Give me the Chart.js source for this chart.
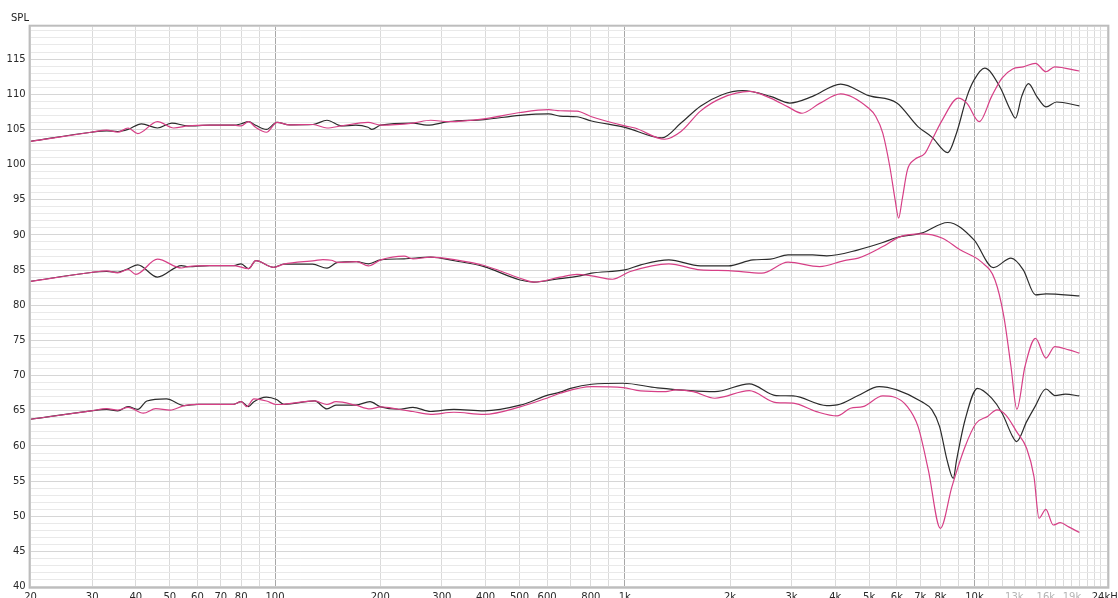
<!DOCTYPE html>
<html>
<head>
<meta charset="utf-8">
<script src="https://cdn.jsdelivr.net/npm/chart.js@4.4.1/dist/chart.umd.min.js"></script>
<style>
  html, body { margin: 0; padding: 0; background: #fff; overflow: hidden; width: 1118px; height: 598px; }
  canvas { display: block; }
</style>
</head>
<body>
<canvas id="spl" width="1118" height="607"></canvas>
<script>
// Frequency response pairs: [Hz, dB SPL]
const topBlack = [[20,103.3],[29.8,104.6],[33,104.8],[35.5,104.7],[38,105.0],[41.5,105.8],[46.1,105.2],[50.7,105.9],[56.4,105.5],[65,105.6],[76.3,105.6],[80,105.8],[84,106.1],[88,105.6],[94.5,105.0],[101.3,106.0],[110,105.65],[128.4,105.7],[140.8,106.3],[154.9,105.5],[170,105.6],[184.5,105.3],[189.2,105.0],[200.5,105.6],[248,105.9],[272,105.6],[313.6,106.1],[396,106.4],[502,107.0],[606,107.2],[653,106.9],[730,106.8],[804,106.2],[1001,105.3],[1277,103.8],[1448,105.9],[1646,108.3],[1890,109.9],[2171,110.5],[2611,109.7],[2965,108.75],[3445,109.7],[4145,111.45],[4988,109.8],[5999,108.75],[6893,105.4],[7558,103.9],[8387,101.7],[8888,104.5],[9522,109.7],[9971,112.0],[10693,113.7],[11810,111.1],[12660,107.8],[13101,106.6],[13650,109.7],[14272,111.5],[15070,109.7],[16017,108.2],[17168,108.9],[19950,108.35]];
const topPink = [[20,103.3],[29.8,104.6],[33,104.9],[35.5,104.6],[38,105.2],[40.5,104.4],[46.1,106.1],[51.3,105.2],[56.4,105.5],[65,105.6],[76.3,105.6],[80,105.5],[84,106.1],[88,105.3],[94.5,104.6],[101.3,106.0],[110,105.65],[128.4,105.7],[140.8,105.2],[154.9,105.5],[184.5,106.0],[200.5,105.6],[248,105.9],[278.7,106.3],[313.6,106.1],[396,106.5],[502,107.4],[606,107.8],[653,107.65],[730,107.6],[804,106.8],[1001,105.5],[1070,105.2],[1300,103.6],[1448,104.7],[1646,107.6],[1890,109.45],[2274,110.4],[2611,109.45],[2930,108.2],[3213,107.3],[3608,108.7],[4145,110.05],[4988,108.0],[5223,106.84],[5469,104.47],[5727,99.73],[5932,94.99],[6070,92.39],[6212,95.0],[6432,99.25],[6736,100.7],[7217,101.6],[7558,103.5],[8104,106.4],[8988,109.45],[9522,108.7],[10327,106.1],[11199,109.7],[11988,112.3],[12861,113.6],[13791,113.9],[14945,114.4],[16017,113.2],[16964,113.9],[19950,113.3]];
const midBlack = [[20,83.4],[29.8,84.66],[33,84.8],[35.5,84.7],[38,85.2],[40.5,85.75],[46.1,84.0],[54,85.65],[56.4,85.5],[65,85.65],[76.3,85.65],[80,85.9],[84,85.2],[88.1,86.36],[99.1,85.4],[106,85.84],[128,85.84],[140.8,85.27],[151,86.1],[171,86.2],[185,85.9],[200.5,86.46],[234,86.6],[278.7,86.85],[328.6,86.3],[396,85.5],[502,83.6],[550,83.3],[653,83.8],[730,84.1],[804,84.57],[1001,85.04],[1111,85.75],[1337,86.46],[1646,85.6],[1979,85.6],[2327,86.46],[2611,86.56],[2930,87.17],[3445,87.17],[3781,87.03],[4652,87.88],[5469,88.92],[5999,89.63],[7053,90.26],[8387,91.77],[9971,89.3],[11323,85.36],[12719,86.7],[13791,85.04],[14945,81.48],[16017,81.62],[19950,81.34]];
const midPink = [[20,83.4],[29.8,84.66],[33,84.9],[35.5,84.6],[38,85.1],[40,84.4],[46.1,86.55],[54,85.3],[56.4,85.5],[65,85.65],[76.3,85.65],[84,85.2],[88.1,86.36],[99.1,85.4],[106,85.84],[130,86.35],[137,86.5],[145,86.4],[151,86.1],[171,86.2],[185,85.6],[200.5,86.46],[234,87.0],[248,86.6],[278.7,86.85],[328.6,86.45],[396,85.65],[502,83.85],[550,83.3],[653,84.0],[730,84.4],[804,84.18],[923,83.7],[1037,84.8],[1337,85.9],[1646,85.04],[1979,84.94],[2465,84.57],[2930,86.13],[3608,85.5],[4242,86.36],[4652,86.7],[5469,88.35],[6143,89.77],[7053,90.16],[8104,89.54],[9094,87.88],[10442,86.2],[11449,83.6],[12138,78.4],[12719,71.3],[13222,65.23],[13947,71.3],[14945,75.3],[16017,72.5],[16964,74.13],[18618,73.66],[19950,73.2]];
const lowBlack = [[20,63.8],[29.8,64.98],[33,65.2],[35.5,65.0],[38,65.6],[40.5,65.2],[43,66.4],[48.9,66.7],[55,65.75],[60,65.93],[76,65.93],[80,66.3],[84,65.6],[87,66.3],[94.5,66.96],[101,66.6],[106,65.93],[129.8,66.4],[140.8,65.27],[149.4,65.8],[170,65.8],[186.9,66.3],[200.5,65.56],[225.6,65.22],[248,65.5],[278.7,64.9],[324.7,65.2],[396,65.0],[502,65.8],[606,67.26],[653,67.65],[700,68.2],[804,68.78],[990,68.92],[1240,68.26],[1810,67.73],[2270,68.83],[2710,67.17],[3030,67.12],[3780,65.74],[4050,65.84],[4650,67.17],[5340,68.44],[6000,67.97],[7050,66.31],[7560,65.13],[7950,62.76],[8350,58.0],[8700,55.4],[8890,58.0],[9400,63.7],[10200,68.2],[11200,66.8],[12000,64.66],[12860,61.33],[13200,60.62],[14100,63.46],[14900,65.6],[16000,68.1],[17000,67.17],[18200,67.36],[19950,67.12]];
const lowPink = [[20,63.8],[29.8,64.98],[33,65.3],[35.5,65.1],[38,65.5],[42,64.66],[45.6,65.3],[50.1,65.1],[55,65.75],[60,65.93],[76,65.93],[80,66.3],[83,65.6],[87,66.7],[94.5,66.4],[101,65.9],[106,65.93],[129.8,66.4],[140.8,65.9],[149.4,66.3],[170,65.8],[186.9,65.27],[200.5,65.56],[225.6,65.22],[248,64.9],[278.7,64.5],[324.7,64.8],[396,64.5],[502,65.56],[606,66.9],[653,67.5],[804,68.44],[990,68.3],[1110,67.83],[1310,67.73],[1400,67.97],[1570,67.73],[1810,66.79],[2270,67.87],[2710,66.17],[3030,66.08],[3530,64.89],[4050,64.27],[4420,65.36],[4800,65.6],[5470,67.12],[5850,67.0],[6430,65.6],[6900,62.75],[7380,56.6],[7990,48.3],[8620,54.2],[9400,59.9],[10100,63.2],[10900,64.2],[11600,65.13],[12300,64.4],[13200,62.04],[14100,59.68],[14800,55.64],[15300,49.73],[16000,51.0],[16800,48.77],[17600,49.1],[18600,48.5],[19950,47.7]];

// Axis ticks
const gridHz = [20,30,40,50,60,70,80,90,100,200,300,400,500,600,700,800,900,1000,2000,3000,4000,5000,6000,7000,8000,9000,
  10000,11000,12000,13000,14000,15000,16000,17000,18000,19000,20000,21000,22000,23000,24000];
const decadeHz = [100, 1000, 10000];
const labelHz   = [20,30,40,50,60,70,80,100,200,300,400,500,600,800,1000,2000,3000,4000,5000,6000,7000,8000,10000,13000,16000,19000,24000];
const labelText = ['20','30','40','50','60','70','80','100','200','300','400','500','600','800','1k','2k','3k','4k','5k','6k','7k','8k','10k','13k','16k','19k','24kHz'];
const fadedHz = [13000, 16000, 19000];
const splMin = 40, splMax = 119.6, splLabelStep = 5;
const splGrid = [];
for (let v = splMin; v <= Math.floor(splMax); v++) splGrid.push(v);

const BLACK = '#2b2b2b';
const PINK = '#d63f86';
const FONT = { family: 'DejaVu Sans', size: 10 };

const toPoints = pairs => pairs.map(([x, y]) => ({ x, y }));
const series = (pairs, color) => ({
  data: toPoints(pairs), borderColor: color, borderWidth: 1.2,
  pointRadius: 0, cubicInterpolationMode: 'monotone', fill: false
});

const frame = {
  id: 'frame',
  afterDatasetsDraw(chart) {
    const { ctx, chartArea: a } = chart;
    ctx.save();
    ctx.strokeStyle = '#bdbdbd';
    ctx.lineWidth = 2;
    ctx.strokeRect(a.left - 1, a.top - 1, a.right - a.left + 2, a.bottom - a.top + 2);
    ctx.restore();
  },
  afterDraw(chart) {
    const ctx = chart.ctx;
    ctx.save();
    ctx.fillStyle = '#222';
    ctx.font = '10px "DejaVu Sans"';
    ctx.textBaseline = 'middle';
    ctx.textAlign = 'left';
    ctx.fillText('SPL', 11, 18.5);
    ctx.restore();
  }
};

new Chart(document.getElementById('spl'), {
  type: 'line',
  data: {
    datasets: [
      series(topPink, PINK), series(topBlack, BLACK),
      series(midPink, PINK), series(midBlack, BLACK),
      series(lowPink, PINK), series(lowBlack, BLACK)
    ]
  },
  options: {
    responsive: false,
    animation: false,
    devicePixelRatio: 1,
    layout: { padding: { left: 0, right: 10.6, top: 26.7, bottom: 0 } },
    plugins: { legend: { display: false }, tooltip: { enabled: false } },
    scales: {
      x: {
        type: 'logarithmic', min: 20, max: 24000,
        afterBuildTicks: s => { s.ticks = gridHz.map(v => ({ value: v })); },
        afterFit: s => { s.height = 20.3; s.paddingLeft = 0; s.paddingRight = 0; },
        border: { display: false },
        grid: {
          drawTicks: false, lineWidth: 1,
          color: c => decadeHz.includes(c.tick && c.tick.value) ? '#a8a8a8' : '#dadada'
        },
        ticks: {
          autoSkip: false, maxRotation: 0, minRotation: 0, padding: 5, font: FONT,
          color: c => fadedHz.includes(c.tick && c.tick.value) ? '#b4b4b4' : '#2a2a2a',
          callback: v => { const i = labelHz.indexOf(v); return i < 0 ? '' : labelText[i]; }
        }
      },
      y: {
        type: 'linear', min: splMin, max: splMax,
        afterBuildTicks: s => { s.ticks = splGrid.map(v => ({ value: v })); },
        afterFit: s => { s.width = 30.6; s.paddingTop = 0; s.paddingBottom = 0; },
        border: { display: false },
        grid: {
          drawTicks: false, lineWidth: 1,
          color: c => (c.tick && c.tick.value % splLabelStep === 0) ? '#d6d6d6' : '#e9e9e9'
        },
        ticks: {
          autoSkip: false, padding: 5, font: FONT, color: '#2a2a2a',
          callback: v => (v % splLabelStep === 0 && v <= 115) ? String(v) : ''
        }
      }
    }
  },
  plugins: [frame]
});
</script>
</body>
</html>
